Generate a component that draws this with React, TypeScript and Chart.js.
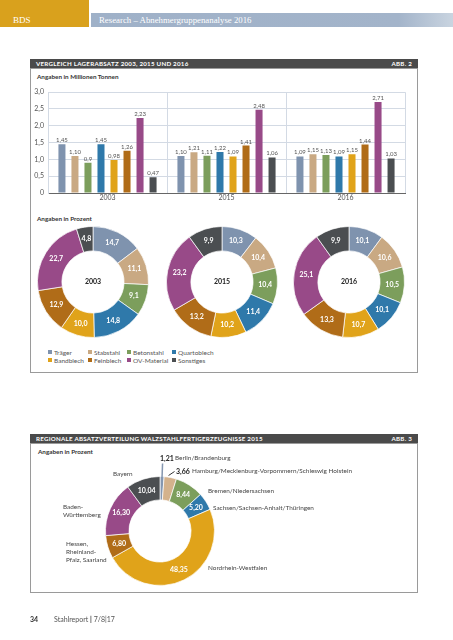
import React, { useEffect, useRef } from 'react';
import { Chart, registerables } from 'chart.js';

Chart.register(...registerables);

// ---------- data ----------
const years = ['2003', '2015', '2016'];
const materials = ['Träger', 'Stabstahl', 'Betonstahl', 'Quartoblech', 'Bandblech', 'Feinblech', 'OV-Material', 'Sonstiges'];
const materialColors = ['#7f93ae', '#c9a983', '#7c9e5c', '#2f79aa', '#e0a31a', '#b06c18', '#984a88', '#4b4e51'];

// Lagerabsatz in Mio. t (order = materials)
const tonnes2003 = ['1,45', '1,10', '0,9', '1,45', '0,98', '1,26', '2,23', '0,47'];
const tonnes2015 = ['1,10', '1,21', '1,11', '1,22', '1,09', '1,41', '2,48', '1,06'];
const tonnes2016 = ['1,09', '1,15', '1,13', '1,09', '1,15', '1,44', '2,71', '1,03'];
const yTicks = [0, 0.5, 1, 1.5, 2, 2.5, 3];

// Anteile in Prozent (order = materials)
const share2003 = [14.7, 11.1, 9.1, 14.8, 10.0, 12.9, 22.7, 4.8];
const share2015 = [10.3, 10.4, 10.4, 11.4, 10.2, 13.2, 23.2, 9.9];
const share2016 = [10.1, 10.6, 10.5, 10.1, 10.7, 13.3, 25.1, 9.9];

// Regionale Absatzverteilung 2015
const regions = ['Berlin/Brandenburg', 'Hamburg/Mecklenburg-Vorpommern/Schleswig Holstein', 'Bremen/Niedersachsen', 'Sachsen/Sachsen-Anhalt/Thüringen', 'Nordrhein-Westfalen', 'Hessen,\nRheinland-\nPfalz, Saarland', 'Baden-\nWürttemberg', 'Bayern'];
const regionShare = [1.21, 3.66, 8.44, 5.20, 48.35, 6.80, 16.30, 10.04];
const regionColors = ['#8597b0', '#d4b28c', '#7c9e5c', '#2f79aa', '#e0a31a', '#b06c18', '#984a88', '#4b4e51'];
const regionValueOutside = [true, true, false, false, false, false, false, false];

// ---------- helpers ----------
const num = (s: string) => parseFloat(s.replace(',', '.'));
const fmt = (v: number, d: number) => v.toFixed(d).replace('.', ',');
const FONT = 'Lato, "Open Sans", sans-serif';

function arcLabels(texts: (string | null)[], centerText?: string) {
  return {
    id: 'arcLabels',
    afterDatasetsDraw(chart: any) {
      const ctx = chart.ctx;
      const meta = chart.getDatasetMeta(0);
      ctx.save();
      ctx.font = `bold 7px ${FONT}`;
      ctx.textAlign = 'center';
      ctx.textBaseline = 'middle';
      ctx.fillStyle = '#ffffff';
      meta.data.forEach((arc: any, i: number) => {
        const t = texts[i];
        if (!t) return;
        const p = arc.tooltipPosition(false);
        ctx.fillText(t, p.x, p.y);
      });
      if (centerText) {
        const a = meta.data[0];
        ctx.fillStyle = '#222222';
        ctx.fillText(centerText, a.x, a.y);
      }
      ctx.restore();
    },
  };
}

const barLabels = {
  id: 'barLabels',
  afterDatasetsDraw(chart: any) {
    const ctx = chart.ctx;
    const byYear = [tonnes2003, tonnes2015, tonnes2016];
    ctx.save();
    ctx.font = `6px ${FONT}`;
    ctx.fillStyle = '#555555';
    ctx.textAlign = 'center';
    ctx.textBaseline = 'middle';
    chart.data.datasets.forEach((_ds: any, di: number) => {
      chart.getDatasetMeta(di).data.forEach((bar: any, i: number) => {
        ctx.fillText(byYear[i][di], bar.x, bar.y - 4);
      });
    });
    ctx.restore();
  },
};

const leaderLines = {
  id: 'leaderLines',
  afterDatasetsDraw(chart: any) {
    const ctx = chart.ctx;
    const meta = chart.getDatasetMeta(0);
    ctx.save();
    // Berlin/Brandenburg
    const a0 = meta.data[0];
    const m0 = (a0.startAngle + a0.endAngle) / 2;
    ctx.strokeStyle = '#8597b0';
    ctx.lineWidth = 1.5;
    ctx.beginPath();
    ctx.moveTo(a0.x + Math.cos(m0) * (a0.outerRadius - 1), a0.y + Math.sin(m0) * (a0.outerRadius - 1));
    ctx.lineTo(a0.x + Math.cos(m0) * (a0.outerRadius + 13), a0.y + Math.sin(m0) * (a0.outerRadius + 13));
    ctx.stroke();
    // Hamburg
    const a1 = meta.data[1];
    const m1 = (a1.startAngle + a1.endAngle) / 2;
    const sx = a1.x + Math.cos(m1) * (a1.outerRadius + 1);
    const sy = a1.y + Math.sin(m1) * (a1.outerRadius + 1);
    ctx.strokeStyle = '#333333';
    ctx.lineWidth = 1;
    ctx.beginPath();
    ctx.moveTo(sx - 2, sy - 1);
    ctx.lineTo(sx + 4, sy - 5);
    ctx.stroke();
    ctx.restore();
  },
};

function doughnutConfig(data: number[], colors: string[], cutout: string, padding: any, plugins: any[]) {
  return {
    type: 'doughnut' as const,
    data: {
      labels: materials,
      datasets: [{ data, backgroundColor: colors, borderColor: 'rgba(255,255,255,0.7)', borderWidth: 1 }],
    },
    options: {
      responsive: false,
      animation: false as const,
      devicePixelRatio: 1,
      cutout,
      rotation: 0,
      layout: { padding },
      plugins: { legend: { display: false }, tooltip: { enabled: false } },
    },
    plugins,
  };
}

// ---------- component ----------
export default function App() {
  const barRef = useRef<HTMLCanvasElement>(null);
  const d1 = useRef<HTMLCanvasElement>(null);
  const d2 = useRef<HTMLCanvasElement>(null);
  const d3 = useRef<HTMLCanvasElement>(null);
  const d4 = useRef<HTMLCanvasElement>(null);

  useEffect(() => {
    const charts: Chart[] = [];
    const byYear = [tonnes2003, tonnes2015, tonnes2016];
    charts.push(
      new Chart(barRef.current!, {
        type: 'bar',
        data: {
          labels: years,
          datasets: materials.map((m, i) => ({
            label: m,
            data: byYear.map((arr) => num(arr[i])),
            backgroundColor: materialColors[i],
            categoryPercentage: 0.875,
            barPercentage: 0.54,
          })),
        },
        options: {
          responsive: false,
          animation: false,
          devicePixelRatio: 1,
          layout: { padding: { top: 6, right: 7, left: 0, bottom: 0 } },
          plugins: { legend: { display: false }, tooltip: { enabled: false } },
          scales: {
            x: {
              grid: { color: '#d3dae4', lineWidth: 1, drawTicks: false, offset: true },
              border: { color: '#666666', width: 1 },
              ticks: { font: { family: FONT, size: 7 }, color: '#555555', padding: 1 },
              afterFit: (s: any) => { s.height = 10; },
            },
            y: {
              min: yTicks[0],
              max: yTicks[yTicks.length - 1],
              grid: { color: '#d3dae4', lineWidth: 1, drawTicks: false },
              border: { color: '#d3dae4' },
              ticks: {
                stepSize: yTicks[1] - yTicks[0],
                font: { family: FONT, size: 7 },
                color: '#555555',
                padding: 4,
                callback: (v: any) => (v === 0 ? '0' : fmt(Number(v), 1)),
              },
              afterFit: (s: any) => { s.width = 16; },
            },
          },
        },
        plugins: [barLabels],
      } as any)
    );

    const shares = [share2003, share2015, share2016];
    [d1, d2, d3].forEach((ref, k) => {
      charts.push(
        new Chart(
          ref.current!,
          doughnutConfig(shares[k], materialColors, '56%', 0, [
            arcLabels(shares[k].map((v) => fmt(v, 1)), years[k]),
          ]) as any
        )
      );
    });

    charts.push(
      new Chart(
        d4.current!,
        doughnutConfig(regionShare, regionColors, '57%', { left: 65, right: 205, top: 28, bottom: 4 }, [
          arcLabels(regionShare.map((v, i) => (regionValueOutside[i] ? null : fmt(v, 2)))),
          leaderLines,
        ]) as any
      )
    );

    return () => charts.forEach((c) => c.destroy());
  }, []);

  const abs = (left: number, top: number, extra: any = {}) => ({ position: 'absolute' as const, left, top, ...extra });
  const titleBar = (top: number, text: string, abb: string, size: number, spacing: number) => (
    <div style={abs(30, top, { width: 388, height: 9, background: '#4a4a4a', color: '#fff', fontFamily: FONT, fontWeight: 700, fontSize: size, letterSpacing: spacing, lineHeight: '9px', whiteSpace: 'nowrap' })}>
      <span style={{ position: 'absolute', left: 6 }}>{text}</span>
      <span style={{ position: 'absolute', right: 6 }}>{abb}</span>
    </div>
  );

  const legendCols = [48, 88, 127, 172];
  const legendRows = [349, 357];

  // outside label layout for the regional doughnut
  const regionLabelPos: [number, number][] = [
    [175, 454],
    [192, 467],
    [208, 487],
    [213, 504],
    [208, 564],
    [66, 540],
    [63, 503],
    [113, 470],
  ];
  const regionValuePos: [number, number][] = [
    [160, 454],
    [176, 467],
  ];

  const serif = '"Liberation Serif", "DejaVu Serif", serif';

  return (
    <div style={abs(0, 0, { width: 453, height: 640, background: '#ffffff', overflow: 'hidden', fontFamily: FONT, color: '#444' })}>
      {/* header */}
      <div style={abs(0, 0, { width: 89, height: 27, background: '#d9a11d' })} />
      <div style={abs(91, 13, { width: 362, height: 14, background: 'linear-gradient(90deg, #9fb1c8 0%, #a3b4ca 85%, #c9d4e0 100%)' })} />
      <div style={abs(13, 14, { color: '#fff', fontFamily: serif, fontSize: 9, lineHeight: '12px' })}>BDS</div>
      <div style={abs(99, 14, { color: '#fff', fontFamily: serif, fontSize: 8.8, lineHeight: '12px', whiteSpace: 'nowrap' })}>
        Research – Abnehmergruppenanalyse 2016
      </div>

      {/* frame 1 */}
      {titleBar(59, 'VERGLEICH LAGERABSATZ 2003, 2015 UND 2016', 'ABB. 2', 6.2, 0.25)}
      <div style={abs(30, 68, { width: 386, height: 303, border: '1px solid #9a9a9a' })} />
      <div style={abs(37, 73, { fontSize: 6.3, fontWeight: 700, color: '#333', lineHeight: '8px', whiteSpace: 'nowrap' })}>Angaben in Millionen Tonnen</div>
      <canvas ref={barRef} width={380} height={119} style={abs(32, 84, { width: 380, height: 119 })} />
      <div style={abs(37, 215, { fontSize: 6.3, fontWeight: 700, color: '#333', lineHeight: '8px', whiteSpace: 'nowrap' })}>Angaben in Prozent</div>
      <canvas ref={d1} width={112} height={112} style={abs(37, 226, { width: 112, height: 112 })} />
      <canvas ref={d2} width={112} height={112} style={abs(166, 226, { width: 112, height: 112 })} />
      <canvas ref={d3} width={112} height={112} style={abs(293, 226, { width: 112, height: 112 })} />
      {materials.map((m, i) => (
        <div key={m} style={abs(legendCols[i % 4], legendRows[Math.floor(i / 4)], { fontSize: 6.5, lineHeight: '8px', color: '#555', whiteSpace: 'nowrap' })}>
          <span style={{ display: 'inline-block', width: 4, height: 4, background: materialColors[i], marginRight: 2, verticalAlign: 'middle', position: 'relative', top: -1 }} />
          {m}
        </div>
      ))}

      {/* frame 2 */}
      {titleBar(434, 'REGIONALE ABSATZVERTEILUNG WALZSTAHLFERTIGERZEUGNISSE 2015', 'ABB. 3', 6.2, 0.25)}
      <div style={abs(30, 443, { width: 386, height: 148, border: '1px solid #9a9a9a' })} />
      <div style={abs(38, 448, { fontSize: 6.3, fontWeight: 700, color: '#333', lineHeight: '8px', whiteSpace: 'nowrap' })}>Angaben in Prozent</div>
      <canvas ref={d4} width={380} height={142} style={abs(40, 448, { width: 380, height: 142 })} />
      {regionValuePos.map((p, i) => (
        <div key={'v' + i} style={abs(p[0], p[1], { fontSize: 7, fontWeight: 700, color: '#222', lineHeight: '8px' })}>{fmt(regionShare[i], 2)}</div>
      ))}
      {regions.map((r, i) => (
        <div key={r} style={abs(regionLabelPos[i][0], regionLabelPos[i][1], { fontSize: 6.4, lineHeight: '8px', color: '#444', whiteSpace: 'pre' })}>{r}</div>
      ))}

      {/* footer */}
      <div style={abs(30, 615, { fontSize: 7, fontWeight: 700, color: '#333', lineHeight: '9px' })}>34</div>
      <div style={abs(54, 615, { fontSize: 7, color: '#555', lineHeight: '9px', whiteSpace: 'nowrap' })}>
        Stahlreport <b style={{ color: '#333' }}>|</b> 7/8|17
      </div>
    </div>
  );
}
